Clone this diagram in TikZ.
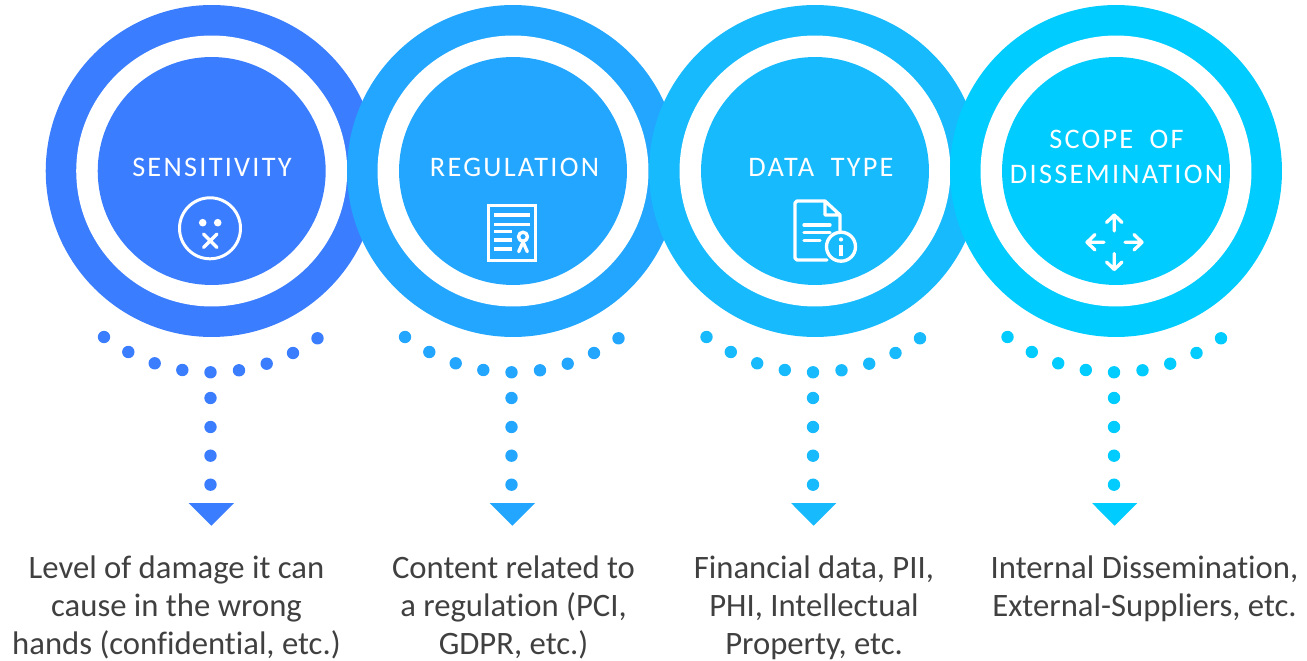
\documentclass[tikz,border=0pt]{standalone}
\usepackage{fontspec}
\setmainfont[Ligatures=NoCommon]{Carlito}
\newfontfamily\headfont[LetterSpace=8,Ligatures=NoCommon,WordSpace=1.9]{Carlito}
\definecolor{colA}{HTML}{3B7DFF}
\definecolor{colB}{HTML}{22A6FF}
\definecolor{colC}{HTML}{17BAFC}
\definecolor{colD}{HTML}{00CCFF}
\begin{document}
\begin{tikzpicture}[x=0.02cm,y=-0.02cm,
    outer/.style={circle, inner sep=0, outer sep=0, minimum size=6.64cm},
    ring/.style={circle, fill=white, inner sep=0, outer sep=0, minimum size=5.42cm},
    inner/.style={circle, inner sep=0, outer sep=0, minimum size=4.56cm},
    head/.style={text=white, align=center, font=\headfont\fontsize{16.1}{19.5}\selectfont},
    desc/.style={anchor=north, align=center, inner sep=0, outer sep=0, text=black!75, font=\fontsize{18.6}{21.6}\selectfont},
    icon/.style={draw=white, line width=1.9pt, line cap=round, line join=round}]
      \useasboundingbox (0,0) rectangle (1307,661);

      % big circles, later ones lie on top
      \node (O1) [outer, fill=colA] at (211.7,171) {};
      \node (R1) [ring] at (211.7,171) {};
      \node (I1) [inner, fill=colA] at (211.7,171) {};

      \node (O2) [outer, fill=colB] at (513,171) {};
      \node (R2) [ring] at (513,171) {};
      \node (I2) [inner, fill=colB] at (513,171) {};

      \node (O3) [outer, fill=colC] at (815,171) {};
      \node (R3) [ring] at (815,171) {};
      \node (I3) [inner, fill=colC] at (815,171) {};

      \node (O4) [outer, fill=colD] at (1116,171) {};
      \node (R4) [ring] at (1116,171) {};
      \node (I4) [inner, fill=colD] at (1116,171) {};

      % circle titles
      \node (H1) [head] at (212,167) {SENSITIVITY};
      \node (H2) [head] at (514.5,167) {REGULATION};
      \node (H3) [head] at (821,167) {DATA TYPE};
      \node (H4) [head] at (1116.5,157) {SCOPE OF\\DISSEMINATION};

      % face
      \draw [icon, line width=1.7pt] (210,228.3) circle (30.5);
      \fill [white] (202.7,222.7) circle (3.8) (217.7,222.7) circle (3.8);
      \draw [icon] (203.5,234) -- (217,247.5) (217,234) -- (203.5,247.5);

      % certificate
      \draw [icon, line cap=butt, line join=miter] (488.5,205.5) rectangle (535.5,260.5);
      \draw [icon, line cap=butt] (494,215) -- (530,215)
          (494,224.3) -- (530,224.3)
          (494,231.3) -- (512,231.3)
          (494,240) -- (512,240)
          (494,249) -- (512,249);
      \draw [icon] (523,236.7) circle (4.5);
      \draw [icon] (523,242) -- (518.7,251.7) (523,242) -- (527.3,251.7);

      % document with info sign
      \draw [icon] (827,260) -- (797,260) -- (795,258) -- (795,203) -- (797,201) -- (825,201) -- (840,215) -- (840,231)
          (825,201) -- (825,215) -- (840,215);
      \draw [icon] (804,225) -- (830,225)
          (804,232.7) -- (830,232.7)
          (804,240.7) -- (820,240.7);
      \draw [icon] (841,246.7) circle (14.5);
      \fill [white] (841,239.5) circle (2.1);
      \draw [icon, line cap=butt] (841,245) -- (841,256);

      % four arrows
      \draw [icon] (1114.3,231) -- (1114.3,215) (1106.5,222.5) -- (1114.3,215) -- (1122,222.5);
      \draw [icon] (1114.3,253.5) -- (1114.3,269.5) (1106.5,262) -- (1114.3,269.5) -- (1122,262);
      \draw [icon] (1104,242.3) -- (1087,242.3) (1095,234.5) -- (1087,242.3) -- (1095,250);
      \draw [icon] (1125,242.3) -- (1142,242.3) (1134,234.5) -- (1142,242.3) -- (1134,250);

      % dotted curves and lines
      \fill [colA] (104,337) circle (6.2) (128.3,352) circle (6.2) (154.7,363.3) circle (6.2)
          (182.3,370) circle (6.2) (210.5,372.3) circle (6.2) (239,370.3) circle (6.2)
          (266.7,363.7) circle (6.2) (293,353) circle (6.2) (317.5,338.3) circle (6.2)
          (210.5,398) circle (6.2) (210.5,427) circle (6.2) (210.5,455.7) circle (6.2) (210.5,484.7) circle (6.2);
      \fill [colB] (405,337) circle (6.2) (429.3,352) circle (6.2) (455.7,363.3) circle (6.2)
          (483.3,370) circle (6.2) (511.5,372.3) circle (6.2) (540,370.3) circle (6.2)
          (567.7,363.7) circle (6.2) (594,353) circle (6.2) (618.5,338.3) circle (6.2)
          (511.5,398) circle (6.2) (511.5,427) circle (6.2) (511.5,455.7) circle (6.2) (511.5,484.7) circle (6.2);
      \fill [colC] (706.5,337) circle (6.2) (730.8,352) circle (6.2) (757.2,363.3) circle (6.2)
          (784.8,370) circle (6.2) (813,372.3) circle (6.2) (841.5,370.3) circle (6.2)
          (869.2,363.7) circle (6.2) (895.5,353) circle (6.2) (920,338.3) circle (6.2)
          (813,398) circle (6.2) (813,427) circle (6.2) (813,455.7) circle (6.2) (813,484.7) circle (6.2);
      \fill [colD] (1007.5,337) circle (6.2) (1031.8,352) circle (6.2) (1058.2,363.3) circle (6.2)
          (1085.8,370) circle (6.2) (1114,372.3) circle (6.2) (1142.5,370.3) circle (6.2)
          (1170.2,363.7) circle (6.2) (1196.5,353) circle (6.2) (1221,338.3) circle (6.2)
          (1114,398) circle (6.2) (1114,427) circle (6.2) (1114,455.7) circle (6.2) (1114,484.7) circle (6.2);

      % triangles
      \fill [colA] (188.7,503) -- (234,503) -- (211.3,525.7) -- cycle;
      \fill [colB] (489.7,503) -- (535,503) -- (512.3,525.7) -- cycle;
      \fill [colC] (791,503) -- (836.3,503) -- (813.6,525.7) -- cycle;
      \fill [colD] (1092,503) -- (1137.3,503) -- (1114.6,525.7) -- cycle;

      % descriptions
      \node (T1) [desc] at (176.5,555.5) {Level of damage it can\\cause in the wrong\\hands (confidential, etc.)};
      \node (T2) [desc] at (513.5,555.5) {Content related to\\a regulation (PCI,\\GDPR, etc.)};
      \node (T3) [desc] at (814,555.5) {Financial data, PII,\\PHI, Intellectual\\Property, etc.};
      \node (T4) [desc] at (1144.5,555.5) {Internal Dissemination,\\External-Suppliers, etc.};
    \end{tikzpicture}
\end{document}
